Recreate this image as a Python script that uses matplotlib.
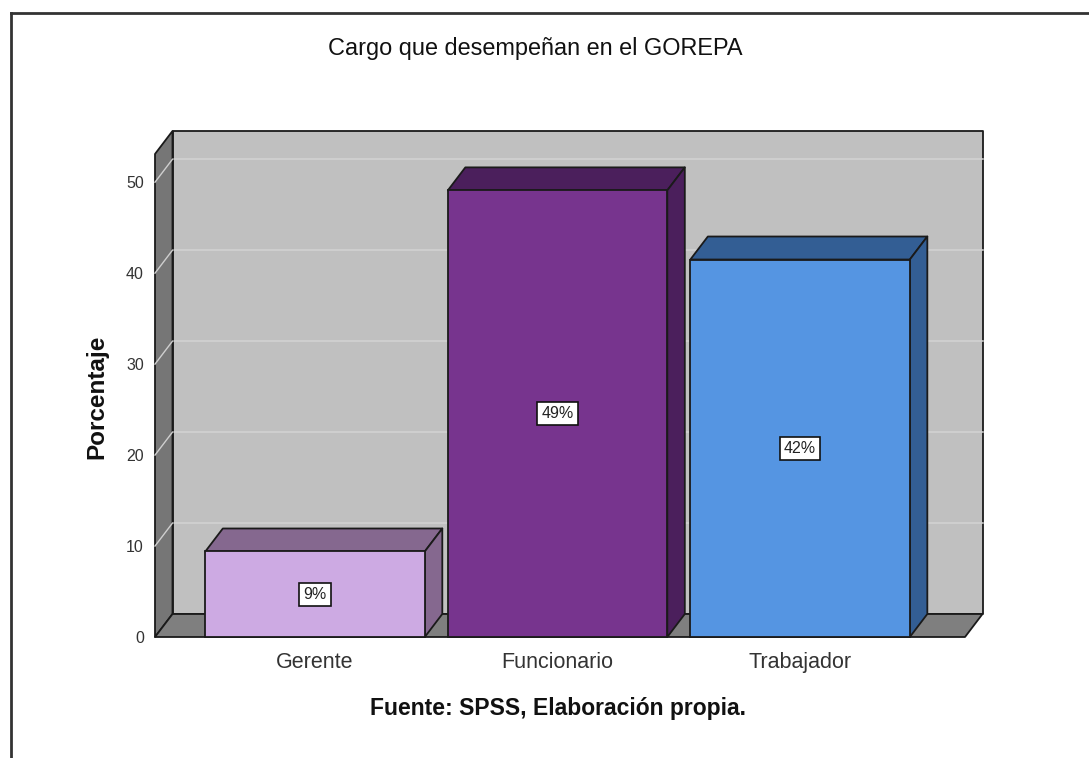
import matplotlib
matplotlib.use("Agg")
import matplotlib.pyplot as plt
from matplotlib.patches import Polygon, Rectangle
from matplotlib.lines import Line2D

plt.rcParams['font.family'] = ['Liberation Sans', 'DejaVu Sans']

# data
categories = ['Gerente', 'Funcionario', 'Trabajador']
values = [9.4, 49.1, 41.5]
labels = ['9%', '49%', '42%']
front_colors = ['#cdaae3', '#77348e', '#5595e2']
side_colors = ['#85688f', '#4b1f5c', '#335e94']
yticks = [0, 10, 20, 30, 40, 50]

W, H = 1089, 758
fig = plt.figure(figsize=(W / 100, H / 100), dpi=100)
fig.patch.set_facecolor('white')

# front plane of the 3d box
x_left, x_right, y_bot, y_top = 155, 965, 637, 154
ax = fig.add_axes([x_left / W, 1 - y_bot / H, (x_right - x_left) / W, (y_bot - y_top) / H])
ax.set_facecolor('none')
xmin, xmax = -0.66, 2.68
ymax = 53.1
ax.set_xlim(xmin, xmax)
ax.set_ylim(0, ymax)
for s in ax.spines.values():
    s.set_visible(False)

# depth offset (pixels) -> data units
dpx, dpy = 17.5, 23
ddx = dpx / ((x_right - x_left) / (xmax - xmin))
ddy = dpy / ((y_bot - y_top) / ymax)

ec = '#1a1a1a'
lw = 1.3

def poly(pts, fc, z, lwd=lw):
    ax.add_patch(Polygon(pts, closed=True, facecolor=fc, edgecolor=ec, linewidth=lwd,
                         zorder=z, clip_on=False, joinstyle='round'))

# back wall
poly([(xmin + ddx, ddy), (xmax + ddx, ddy), (xmax + ddx, ymax + ddy), (xmin + ddx, ymax + ddy)],
     '#c0c0c0', 1)
for t in yticks[1:]:
    ax.plot([xmin + ddx, xmax + ddx], [t + ddy, t + ddy], color='#d3d3d3', lw=1.1, zorder=1.5,
            clip_on=False)
# left wall
poly([(xmin, 0), (xmin, ymax), (xmin + ddx, ymax + ddy), (xmin + ddx, ddy)], '#767676', 2)
for t in yticks[1:]:
    ax.plot([xmin, xmin + ddx], [t, t + ddy], color='#cfcfcf', lw=1.0, zorder=2.5, clip_on=False)
# floor
poly([(xmin, 0), (xmax, 0), (xmax + ddx, ddy), (xmin + ddx, ddy)], '#7f7f7f', 2)

# bars
pos = list(range(len(categories)))
bw = 0.905
for i, (p, v) in enumerate(zip(pos, values)):
    l, r = p - bw / 2, p + bw / 2
    poly([(l, v), (r, v), (r + ddx, v + ddy), (l + ddx, v + ddy)], side_colors[i], 3)
    poly([(r, 0), (r + ddx, ddy), (r + ddx, v + ddy), (r, v)], side_colors[i], 3)
    ax.add_patch(Rectangle((l, 0), bw, v, facecolor=front_colors[i], edgecolor=ec,
                           linewidth=lw, zorder=4, clip_on=False))
    ax.text(p, v / 2, labels[i], ha='center', va='center', fontsize=11.5, color='#222222',
            zorder=5, bbox=dict(boxstyle='square,pad=0.25', facecolor='white',
                                edgecolor='#111111', linewidth=1.2))

ax.set_xticks(pos, categories)
ax.set_yticks(yticks)
ax.tick_params(axis='x', length=0, pad=11, labelsize=15.5, labelcolor='#333333')
ax.tick_params(axis='y', length=0, pad=8, labelsize=11.5, labelcolor='#333333')

ax.set_ylabel('Porcentaje', fontsize=17.5, fontweight='bold', color='#111111')
ax.yaxis.label.set_va('center')
ax.yaxis.set_label_coords((97 - x_left) / (x_right - x_left), (y_bot - 397) / (y_bot - y_top))

fig.text(535 / W, 1 - 48 / H, 'Cargo que desempeñan en el GOREPA', ha='center', va='center',
         fontsize=16.9, color='#111111')
fig.text(558 / W, 1 - 709 / H, 'Fuente: SPSS, Elaboración propia.', ha='center', va='center',
         fontsize=16.5, fontweight='bold', color='#111111')

# outer frame (top and left)
fig.add_artist(Line2D([10.5 / W, 10.5 / W], [0, 1 - 13 / H], color='#333333', lw=2,
                      transform=fig.transFigure))
fig.add_artist(Line2D([10.5 / W, 1], [1 - 13 / H, 1 - 13 / H], color='#333333', lw=2,
                      transform=fig.transFigure))

fig.savefig('out.png', dpi=100)
